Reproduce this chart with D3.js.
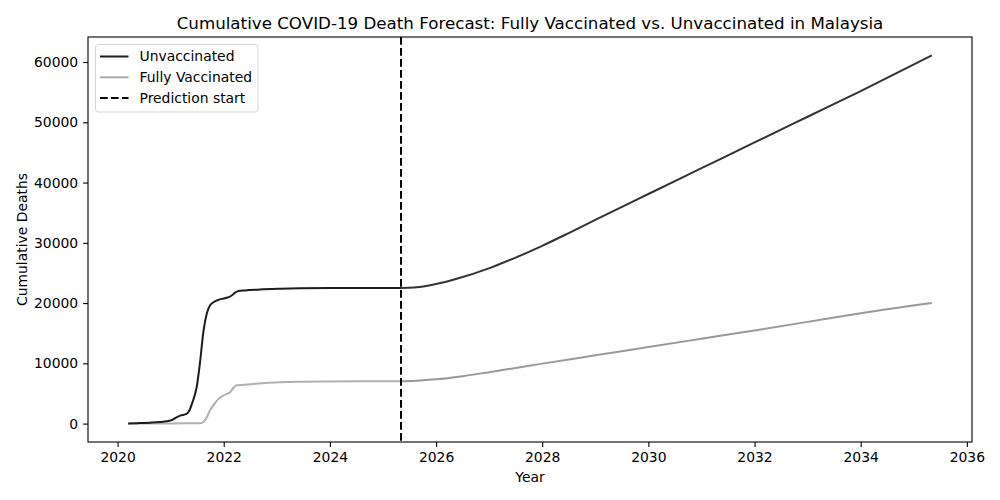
<!DOCTYPE html>
<html>
<head>
<meta charset="utf-8">
<script src="https://cdn.jsdelivr.net/npm/d3@7"></script>
<style>
  body { margin: 0; background: #fff; }
  text { font-family: "DejaVu Sans", sans-serif; }
</style>
</head>
<body>
<svg id="chart" width="1000" height="500"></svg>
<script>
// ---- Data (decimal years) ----
const histYears = [2020.20, 2020.40, 2020.61, 2020.80, 2020.93, 2021.03, 2021.10, 2021.18, 2021.30, 2021.36, 2021.40, 2021.45, 2021.49, 2021.55, 2021.62, 2021.68, 2021.74, 2021.80, 2021.87, 2021.96, 2022.06, 2022.15, 2022.21, 2022.27, 2022.40, 2022.68, 2023.06, 2023.44, 2024.00, 2024.38, 2025.34];
const histUnvax = [0, 80, 150, 250, 380, 600, 1000, 1330, 1600, 2300, 3270, 4600, 6030, 9900, 15450, 18220, 19600, 20100, 20430, 20700, 20880, 21260, 21700, 21980, 22100, 22250, 22370, 22450, 22500, 22500, 22500];

const histVaxYears = [2020.20, 2020.80, 2021.30, 2021.55, 2021.62, 2021.68, 2021.74, 2021.82, 2021.90, 2021.98, 2022.06, 2022.12, 2022.18, 2022.24, 2022.40, 2022.60, 2023.06, 2023.50, 2024.00, 2025.34];
const histVax = [30, 30, 40, 50, 300, 1000, 2160, 3200, 4100, 4600, 4930, 5200, 5900, 6350, 6450, 6600, 6860, 6950, 7000, 7030];

const fcYears = [2025.34, 2025.76, 2026.00, 2026.39, 2027.02, 2027.50, 2028.00, 2028.50, 2029.00, 2030.00, 2031.00, 2032.00, 2033.00, 2034.00, 2035.34];
const fcUnvax = [22500, 22760, 23150, 24030, 25850, 27550, 29500, 31620, 33800, 38100, 42380, 46660, 50920, 55180, 61100];

const fcVaxYears = [2025.34, 2025.70, 2026.00, 2026.50, 2027.00, 2028.00, 2029.00, 2030.00, 2031.00, 2032.00, 2033.00, 2034.00, 2035.34];
const fcVax = [7030, 7160, 7350, 7870, 8530, 9950, 11330, 12700, 14080, 15460, 16880, 18300, 20000];

const predictionStart = 2025.34;
const xTicks = [2020, 2022, 2024, 2026, 2028, 2030, 2032, 2034, 2036];
const yTicks = [0, 10000, 20000, 30000, 40000, 50000, 60000];

const seriesNames = ["Unvaccinated", "Fully Vaccinated", "Prediction start"];
const title = "Cumulative COVID-19 Death Forecast: Fully Vaccinated vs. Unvaccinated in Malaysia";

// ---- Layout ----
const L = 88, R = 972, T = 37, B = 442;
const svg = d3.select("#chart");

const allYears = histYears.concat(fcYears);
const allVals = histUnvax.concat(fcUnvax, histVax, fcVax);
const xMin = d3.min(allYears), xMax = d3.max(allYears);
const yMin = d3.min(allVals), yMax = d3.max(allVals);
const xPad = (xMax - xMin) * 0.05, yPad = (yMax - yMin) * 0.05;

const x = d3.scaleLinear().domain([xMin - xPad, xMax + xPad]).range([L, R]);
const y = d3.scaleLinear().domain([yMin - yPad, yMax + yPad]).range([B, T]);

const line = (xs, ys) => d3.line()
  .x((d, i) => x(xs[i]))
  .y((d, i) => y(ys[i]))
  .curve(d3.curveMonotoneX)(ys);

const plot = svg.append("g");

plot.append("path").attr("d", line(histVaxYears, histVax))
  .attr("fill", "none").attr("stroke", "#b0b0b0").attr("stroke-width", 2);
plot.append("path").attr("d", line(fcVaxYears, fcVax))
  .attr("fill", "none").attr("stroke", "#999999").attr("stroke-width", 2);
plot.append("path").attr("d", line(histYears, histUnvax))
  .attr("fill", "none").attr("stroke", "#1c1c1c").attr("stroke-width", 2);
plot.append("path").attr("d", line(fcYears, fcUnvax))
  .attr("fill", "none").attr("stroke", "#333333").attr("stroke-width", 2);

plot.append("line")
  .attr("x1", x(predictionStart)).attr("x2", x(predictionStart))
  .attr("y1", T).attr("y2", B)
  .attr("stroke", "#000").attr("stroke-width", 2)
  .attr("stroke-dasharray", "7.7,3.3");

// ---- Axes ----
const xAxis = svg.append("g").attr("transform", `translate(0,${B})`)
  .call(d3.axisBottom(x).tickValues(xTicks).tickFormat(d3.format("d")).tickSize(4.9).tickPadding(4.9).tickSizeOuter(0));
const yAxis = svg.append("g").attr("transform", `translate(${L},0)`)
  .call(d3.axisLeft(y).tickValues(yTicks).tickFormat(d3.format("d")).tickSize(4.9).tickPadding(4.9).tickSizeOuter(0));
[xAxis, yAxis].forEach(a => {
  a.select(".domain").remove();
  a.selectAll(".tick line").attr("stroke", "#000").attr("stroke-width", 1.1);
  a.selectAll(".tick text").attr("font-family", "DejaVu Sans").attr("font-size", 13.9).attr("fill", "#000");
});
xAxis.selectAll(".tick text").attr("dy", "0.76em");

svg.append("rect").attr("x", L).attr("y", T).attr("width", R - L).attr("height", B - T)
  .attr("fill", "none").attr("stroke", "#000").attr("stroke-width", 1.1);

// ---- Labels ----
svg.append("text").attr("x", (L + R) / 2).attr("y", 28.7).attr("text-anchor", "middle")
  .attr("font-size", 16.7).attr("fill", "#000").text(title);
svg.append("text").attr("x", (L + R) / 2).attr("y", 482).attr("text-anchor", "middle")
  .attr("font-size", 13.9).attr("fill", "#000").text("Year");
svg.append("text").attr("transform", `translate(27,${(T + B) / 2}) rotate(-90)`)
  .attr("text-anchor", "middle").attr("font-size", 13.9).attr("fill", "#000").text("Cumulative Deaths");

// ---- Legend ----
const lg = svg.append("g");
lg.append("rect").attr("x", 95.5).attr("y", 44.5).attr("width", 162.5).attr("height", 67.5)
  .attr("rx", 3).attr("fill", "#fff").attr("fill-opacity", 0.8)
  .attr("stroke", "#d5d5d5").attr("stroke-width", 1);
const legendStyles = [
  { color: "#1c1c1c", dash: null },
  { color: "#aaaaaa", dash: null },
  { color: "#000000", dash: "7.7,3.3" }
];
seriesNames.forEach((name, i) => {
  const cy = 56.5 + i * 20.8;
  lg.append("line").attr("x1", 100).attr("x2", 128.5).attr("y1", cy).attr("y2", cy)
    .attr("stroke", legendStyles[i].color).attr("stroke-width", 2)
    .attr("stroke-dasharray", legendStyles[i].dash);
  lg.append("text").attr("x", 139.5).attr("y", cy + 4.9).attr("font-size", 13.9)
    .attr("fill", "#000").text(name);
});
</script>
</body>
</html>
